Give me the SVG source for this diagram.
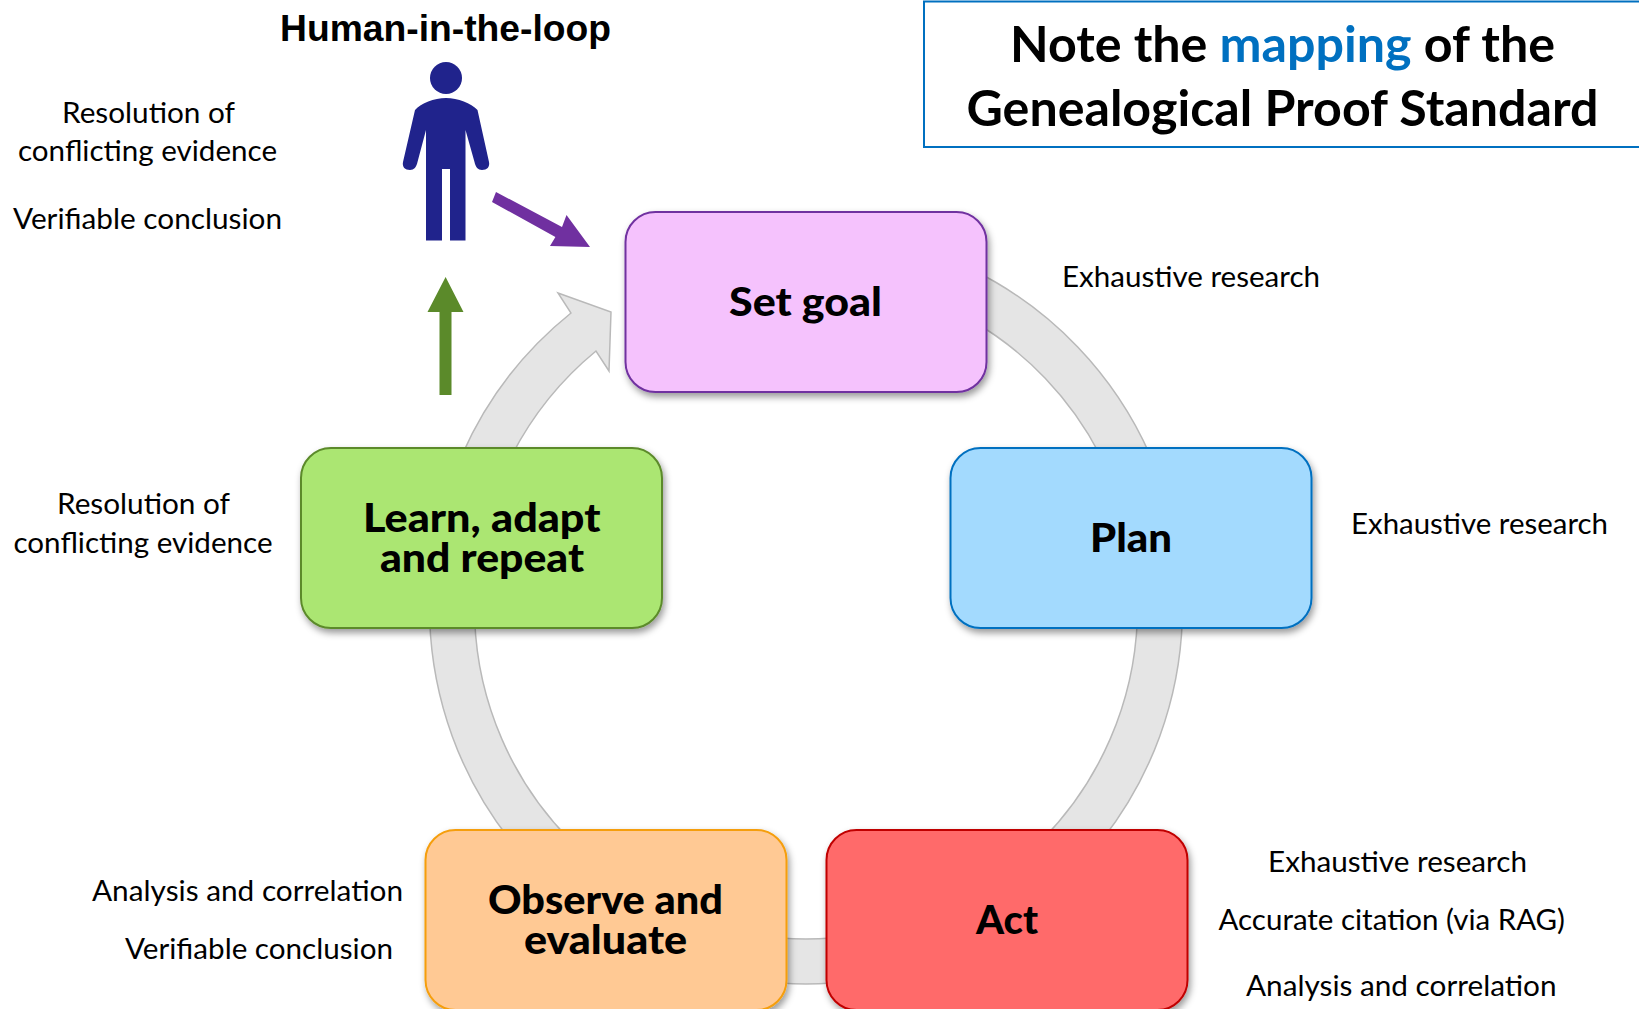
<svg xmlns="http://www.w3.org/2000/svg" width="1639" height="1009" viewBox="0 0 1639 1009">
<style>
text{font-family:"Lato","Open Sans","Liberation Sans",sans-serif;fill:#000}
.note{font-size:29px}
.head{font-size:39px;font-weight:900}
.title{font-size:50px;font-weight:700}
.box{stroke-width:2}
.ring{fill:#e5e5e5;stroke:#b9b9b9;stroke-width:1.5}
</style>
<defs>
<filter id="shadow" x="-10%" y="-10%" width="125%" height="130%"><feDropShadow dx="2" dy="4" stdDeviation="3.5" flood-color="#000" flood-opacity="0.4"/></filter>
</defs>
<rect width="1639" height="1009" fill="#fff"/>
<g id="connectors">
<path class="ring" d="M973 270A376.5 376.5 0 0 1 1150 455L1100 455A331.5 331.5 0 0 0 971 320Z"/>
<path class="ring" d="M1182.3 620A376.5 376.5 0 0 1 1102 840L1042 840A331.5 331.5 0 0 0 1137.3 620Z"/>
<path class="ring" d="M832 983.1A376.5 376.5 0 0 1 780 983.1L780 938A331.5 331.5 0 0 0 832 938Z"/>
<path class="ring" d="M510 840A376.5 376.5 0 0 1 429.7 620L474.7 620A331.5 331.5 0 0 0 570 840Z"/>
<path class="ring" d="M462 455A376.5 376.5 0 0 1 571 313L558 293L611 312L609 371L596 351A331.5 331.5 0 0 0 512 455Z"/>
<polygon points="496,192 562,227 566.5,215 590,247 550,246 555.4,237 492,202" fill="#7030a0"/>
<polygon points="445.6,277 463.5,312 451.5,312 451.5,395 439.5,395 439.5,312 427.5,312" fill="#5b8a2a"/>
</g>
<g id="human">
<ellipse cx="446" cy="78" rx="16" ry="16" fill="#20238c"/>
<path fill="#20238c" d="M446 98C434 98 421 103 415 110L403 162C402 167 405 170 410 170C414 170 416.5 167 417.5 162L426 130L426 240.5L442 240.5L442 169L450 169L450 240.5L465.5 240.5L465.5 130L474.5 162C475.5 167 478 170 482 170C487 170 490 167 489 162L477.5 110C471 103 458 98 446 98Z"/>
<text x="280" y="41" font-size="37" font-weight="700" style="font-family:'Liberation Sans',Arial,sans-serif" textLength="331" lengthAdjust="spacingAndGlyphs">Human-in-the-loop</text>
</g>
<g id="title">
<rect x="924" y="1.5" width="720" height="145.5" fill="#fff" stroke="#0070c0" stroke-width="2"/>
<text class="title" x="1010" y="62" textLength="545" lengthAdjust="spacingAndGlyphs">Note the <tspan style="fill:#0070c0">mapping</tspan> of the</text>
<text class="title" x="966.5" y="126" textLength="632" lengthAdjust="spacingAndGlyphs">Genealogical Proof Standard</text>
</g>
<g id="set-goal">
<rect class="box" x="625.5" y="212" width="361" height="180" rx="30" fill="#f5c2fd" stroke="#7030a0" filter="url(#shadow)"/>
<text class="head" x="729" y="316" textLength="153" lengthAdjust="spacingAndGlyphs">Set goal</text>
</g>
<g id="plan">
<rect class="box" x="950.5" y="448" width="361" height="180" rx="30" fill="#a3dafe" stroke="#0070c0" filter="url(#shadow)"/>
<text class="head" x="1090" y="552" textLength="82" lengthAdjust="spacingAndGlyphs">Plan</text>
</g>
<g id="act">
<rect class="box" x="826.5" y="830" width="361" height="180" rx="30" fill="#ff6b6b" stroke="#c00000" filter="url(#shadow)"/>
<text class="head" x="976" y="934" textLength="62" lengthAdjust="spacingAndGlyphs">Act</text>
</g>
<g id="observe">
<rect class="box" x="425.5" y="830" width="361" height="180" rx="30" fill="#ffc994" stroke="#f59e0b" filter="url(#shadow)"/>
<text class="head"><tspan x="488" y="914" textLength="235" lengthAdjust="spacingAndGlyphs">Observe and</tspan><tspan x="524" y="954" textLength="163" lengthAdjust="spacingAndGlyphs">evaluate</tspan></text>
</g>
<g id="learn">
<rect class="box" x="301" y="448" width="361" height="180" rx="30" fill="#abe672" stroke="#5b8a2a" filter="url(#shadow)"/>
<text class="head"><tspan x="363" y="532" textLength="237.5" lengthAdjust="spacingAndGlyphs">Learn, adapt</tspan><tspan x="380" y="572" textLength="204" lengthAdjust="spacingAndGlyphs">and repeat</tspan></text>
</g>
<g id="notes">
<text class="note" x="62" y="123" textLength="173" lengthAdjust="spacingAndGlyphs">Resolution of</text>
<text class="note" x="18" y="161" textLength="259" lengthAdjust="spacingAndGlyphs">conflicting evidence</text>
<text class="note" x="13" y="229" textLength="269" lengthAdjust="spacingAndGlyphs">Verifiable conclusion</text>
<text class="note" x="1062" y="287" textLength="258" lengthAdjust="spacingAndGlyphs">Exhaustive research</text>
<text class="note" x="1351" y="534" textLength="257" lengthAdjust="spacingAndGlyphs">Exhaustive research</text>
<text class="note" x="57" y="514" textLength="173" lengthAdjust="spacingAndGlyphs">Resolution of</text>
<text class="note" x="13.5" y="553" textLength="259" lengthAdjust="spacingAndGlyphs">conflicting evidence</text>
<text class="note" x="92" y="901" textLength="311" lengthAdjust="spacingAndGlyphs">Analysis and correlation</text>
<text class="note" x="125" y="959" textLength="268" lengthAdjust="spacingAndGlyphs">Verifiable conclusion</text>
<text class="note" x="1268" y="872" textLength="259" lengthAdjust="spacingAndGlyphs">Exhaustive research</text>
<text class="note" x="1218.5" y="930" textLength="346.5" lengthAdjust="spacingAndGlyphs">Accurate citation (via RAG)</text>
<text class="note" x="1246" y="996" textLength="310.5" lengthAdjust="spacingAndGlyphs">Analysis and correlation</text>
</g>
</svg>
